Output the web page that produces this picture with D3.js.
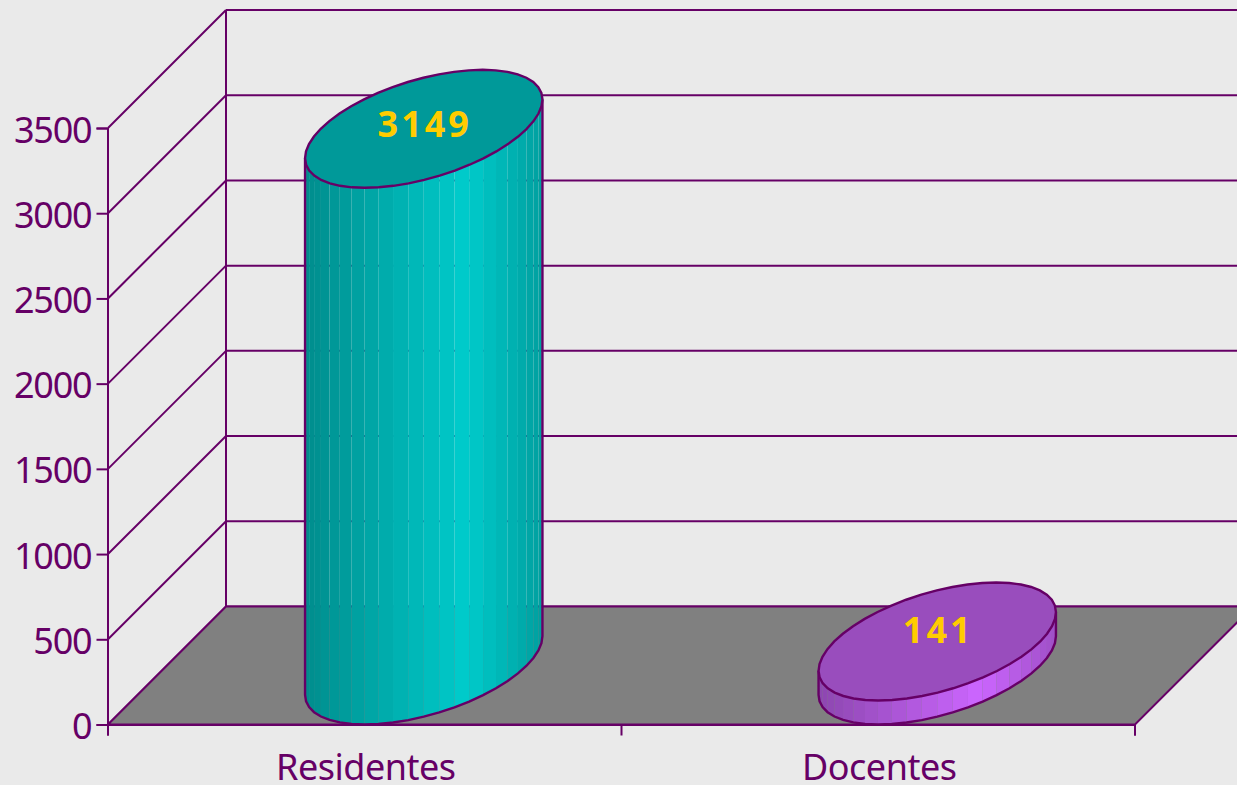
<!DOCTYPE html>
<html>
<head>
<meta charset="utf-8">
<script src="https://cdn.jsdelivr.net/npm/d3@7"></script>
<style>
  html, body { margin: 0; padding: 0; background: #eaeaea; overflow: hidden; }
  svg { display: block; }
</style>
</head>
<body>
<div id="chart"></div>
<script>
const categories = ['Residentes', 'Docentes'];
const values = [3149, 141];
const yTicks = [0, 500, 1000, 1500, 2000, 2500, 3000, 3500];
const brightColors = ['#00cccc', '#cc66ff'];
const lidColors = ['#009999', '#994dbd'];

const W = 1237, H = 785;
const ink = '#660066';
const depth = 118; // oblique offset of the back wall, same in x and y
const rimSteps = 48;

const svg = d3.select('#chart').append('svg').attr('width', W).attr('height', H);

const x = d3.scaleBand().domain(categories).range([108, 1135]);
const y = d3.scaleLinear().domain([0, 3500]).range([724.5, 128]);

// walls and gridlines
const grid = svg.append('g').attr('fill', 'none').attr('stroke', ink).attr('stroke-width', 2);
grid.selectAll('.back').data(yTicks).enter().append('line')
  .attr('x1', 108 + depth).attr('x2', 1135 + depth)
  .attr('y1', d => y(d) - depth).attr('y2', d => y(d) - depth);
grid.selectAll('.side').data(yTicks).enter().append('line')
  .attr('x1', 108).attr('x2', 108 + depth)
  .attr('y1', d => y(d)).attr('y2', d => y(d) - depth);
grid.append('line')
  .attr('x1', 108 + depth).attr('x2', 108 + depth)
  .attr('y1', y(3500) - depth).attr('y2', y(0) - depth);

// floor
svg.append('path')
  .attr('d', d3.line()([[108, y(0)], [108 + depth, y(0) - depth], [1135 + depth, y(0) - depth], [1135, y(0)]]) + 'Z')
  .attr('fill', '#808080').attr('stroke', ink).attr('stroke-width', 2);

// axes
const yAxis = svg.append('g').attr('transform', 'translate(107.5,0)')
  .call(d3.axisLeft(y).tickValues(yTicks).tickSize(11).tickPadding(5).tickFormat(d3.format('d')));
const xTicks = svg.append('g').attr('transform', 'translate(-0.5,' + y(0) + ')')
  .call(d3.axisBottom(d3.scaleLinear().domain([0, 2]).range(x.range())).ticks(2).tickSize(11).tickFormat(''));
const xAxis = svg.append('g').attr('transform', 'translate(1,' + y(0) + ')')
  .call(d3.axisBottom(x).tickSize(0).tickPadding(30));
xAxis.select('.domain').remove();
[yAxis, xTicks].forEach(g => {
  g.select('.domain').attr('stroke', ink).attr('stroke-width', 2);
  g.selectAll('.tick line').attr('stroke', ink).attr('stroke-width', 2);
});
[yAxis, xAxis].forEach(g => {
  g.attr('font-family', '"Noto Sans", sans-serif').attr('font-size', 36);
  g.selectAll('text').attr('fill', ink).attr('letter-spacing', '-0.5px');
});
yAxis.selectAll('text').attr('dy', '0.39em').attr('letter-spacing', '-1.2px');

// columns: a circle on the floor seen in oblique projection
const rz = depth / 2, rx = 103;
const labelLift = { Residentes: 51, Docentes: 57 };

categories.forEach(function (cat, i) {
  const cx = x(cat) + x.bandwidth() / 2 + rz;
  const base = y(0) - rz, top = y(values[i]) - rz;
  const px = t => cx + rx * Math.cos(t) + rz * Math.sin(t);
  const py = (t, level) => level - rz * Math.sin(t);

  const start = Math.atan2(-rz, -rx); // leftmost silhouette point
  const front = d3.range(rimSteps / 2 + 1).map(k => start + k * 2 * Math.PI / rimSteps);
  const reach = Math.hypot(rx, rz);

  const bright = d3.rgb(brightColors[i]);
  const shade = d3.scaleLinear().domain([0, 0.68, 1])
    .range([bright.darker(1.05), bright, bright.darker(0.7)]);

  const g = svg.append('g');
  g.selectAll('polygon').data(d3.pairs(front)).enter().append('polygon')
    .attr('points', d => [[px(d[0]), py(d[0], top)], [px(d[1]), py(d[1], top)],
      [px(d[1]), py(d[1], base)], [px(d[0]), py(d[0], base)]].join(' '))
    .attr('fill', d => shade(((px(d[0]) + px(d[1])) / 2 - (cx - reach)) / (2 * reach)));

  const line = d3.line();
  const wall = [[px(start), py(start, top)]]
    .concat(front.map(t => [px(t), py(t, base)]))
    .concat([[px(start + Math.PI), py(start + Math.PI, top)]]);
  g.append('path').attr('d', line(wall))
    .attr('fill', 'none').attr('stroke', ink).attr('stroke-width', 2.4);

  const rim = d3.range(rimSteps).map(k => k * 2 * Math.PI / rimSteps).map(t => [px(t), py(t, top)]);
  g.append('path').attr('d', line(rim) + 'Z')
    .attr('fill', lidColors[i]).attr('stroke', ink).attr('stroke-width', 2.4);

  g.append('text')
    .attr('x', cx + 1).attr('y', y(values[i]) - labelLift[cat])
    .attr('text-anchor', 'middle')
    .attr('font-family', '"Noto Sans", sans-serif').attr('font-weight', 700)
    .attr('font-size', 36).attr('letter-spacing', '3px')
    .attr('fill', '#ffcc00')
    .text(values[i]);
});
</script>
</body>
</html>
